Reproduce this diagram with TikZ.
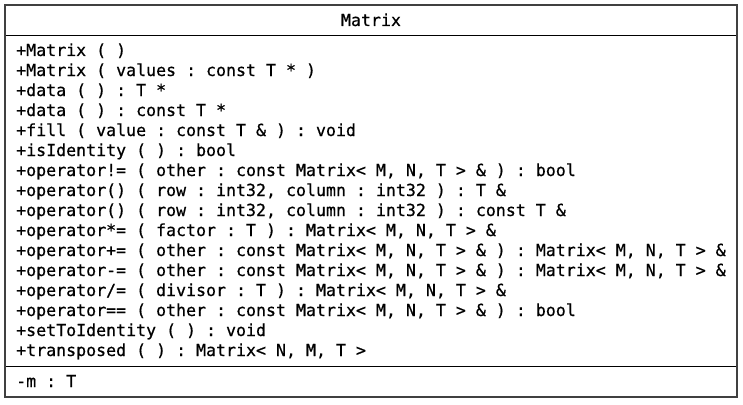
\documentclass[tikz,border=0pt]{standalone}
\usepackage{fontspec}
\setmonofont[FakeBold=0.6]{DejaVu Sans Mono}
\begin{document}
\begin{tikzpicture}[x=1pt, y=-1pt,
  umltext/.style={font=\fontsize{16.6pt}{20pt}\selectfont\ttfamily, inner sep=0pt, anchor=base west},
  umlframe/.style={draw=black!75, line width=1.4pt},
  umlrule/.style={draw=black, line width=1pt}]
  % page
  \fill[white] (0,0) rectangle (743,404);
  \useasboundingbox (0,0) rectangle (743,404);
  % class box and compartments
  \coordinate (nw) at (5,5);
  \coordinate (se) at (737,397);
  \fill[white] (nw) rectangle (se);
  \draw[umlrule] (5,36) coordinate (h1) -- (737,36) coordinate (h2);
  \draw[umlrule] (5,366) coordinate (a1) -- (737,366) coordinate (a2);
  \draw[umlframe] (nw) rectangle (se);
  % class name
  \node[umltext, anchor=base] (title) at (371,26) {Matrix};
  % operations
  \foreach \txt [count=\i] in {
    {+Matrix ( )},
    {+Matrix ( values : const T * )},
    {+data ( ) : T *},
    {+data ( ) : const T *},
    {+fill ( value : const T \& ) : void},
    {+isIdentity ( ) : bool},
    {+operator!= ( other : const Matrix< M, N, T > \& ) : bool},
    {+operator() ( row : int32, column : int32 ) : T \&},
    {+operator() ( row : int32, column : int32 ) : const T \&},
    {+operator*= ( factor : T ) : Matrix< M, N, T > \&},
    {+operator+= ( other : const Matrix< M, N, T > \& ) : Matrix< M, N, T > \&},
    {+operator-= ( other : const Matrix< M, N, T > \& ) : Matrix< M, N, T > \&},
    {+operator/= ( divisor : T ) : Matrix< M, N, T > \&},
    {+operator== ( other : const Matrix< M, N, T > \& ) : bool},
    {+setToIdentity ( ) : void},
    {+transposed ( ) : Matrix< N, M, T >}}
    \node[umltext] (op\i) at (16,{36+\i*20}) {\txt};
  % attributes
  \node[umltext] (attr1) at (16,387) {-m : T};
\end{tikzpicture}
\end{document}
